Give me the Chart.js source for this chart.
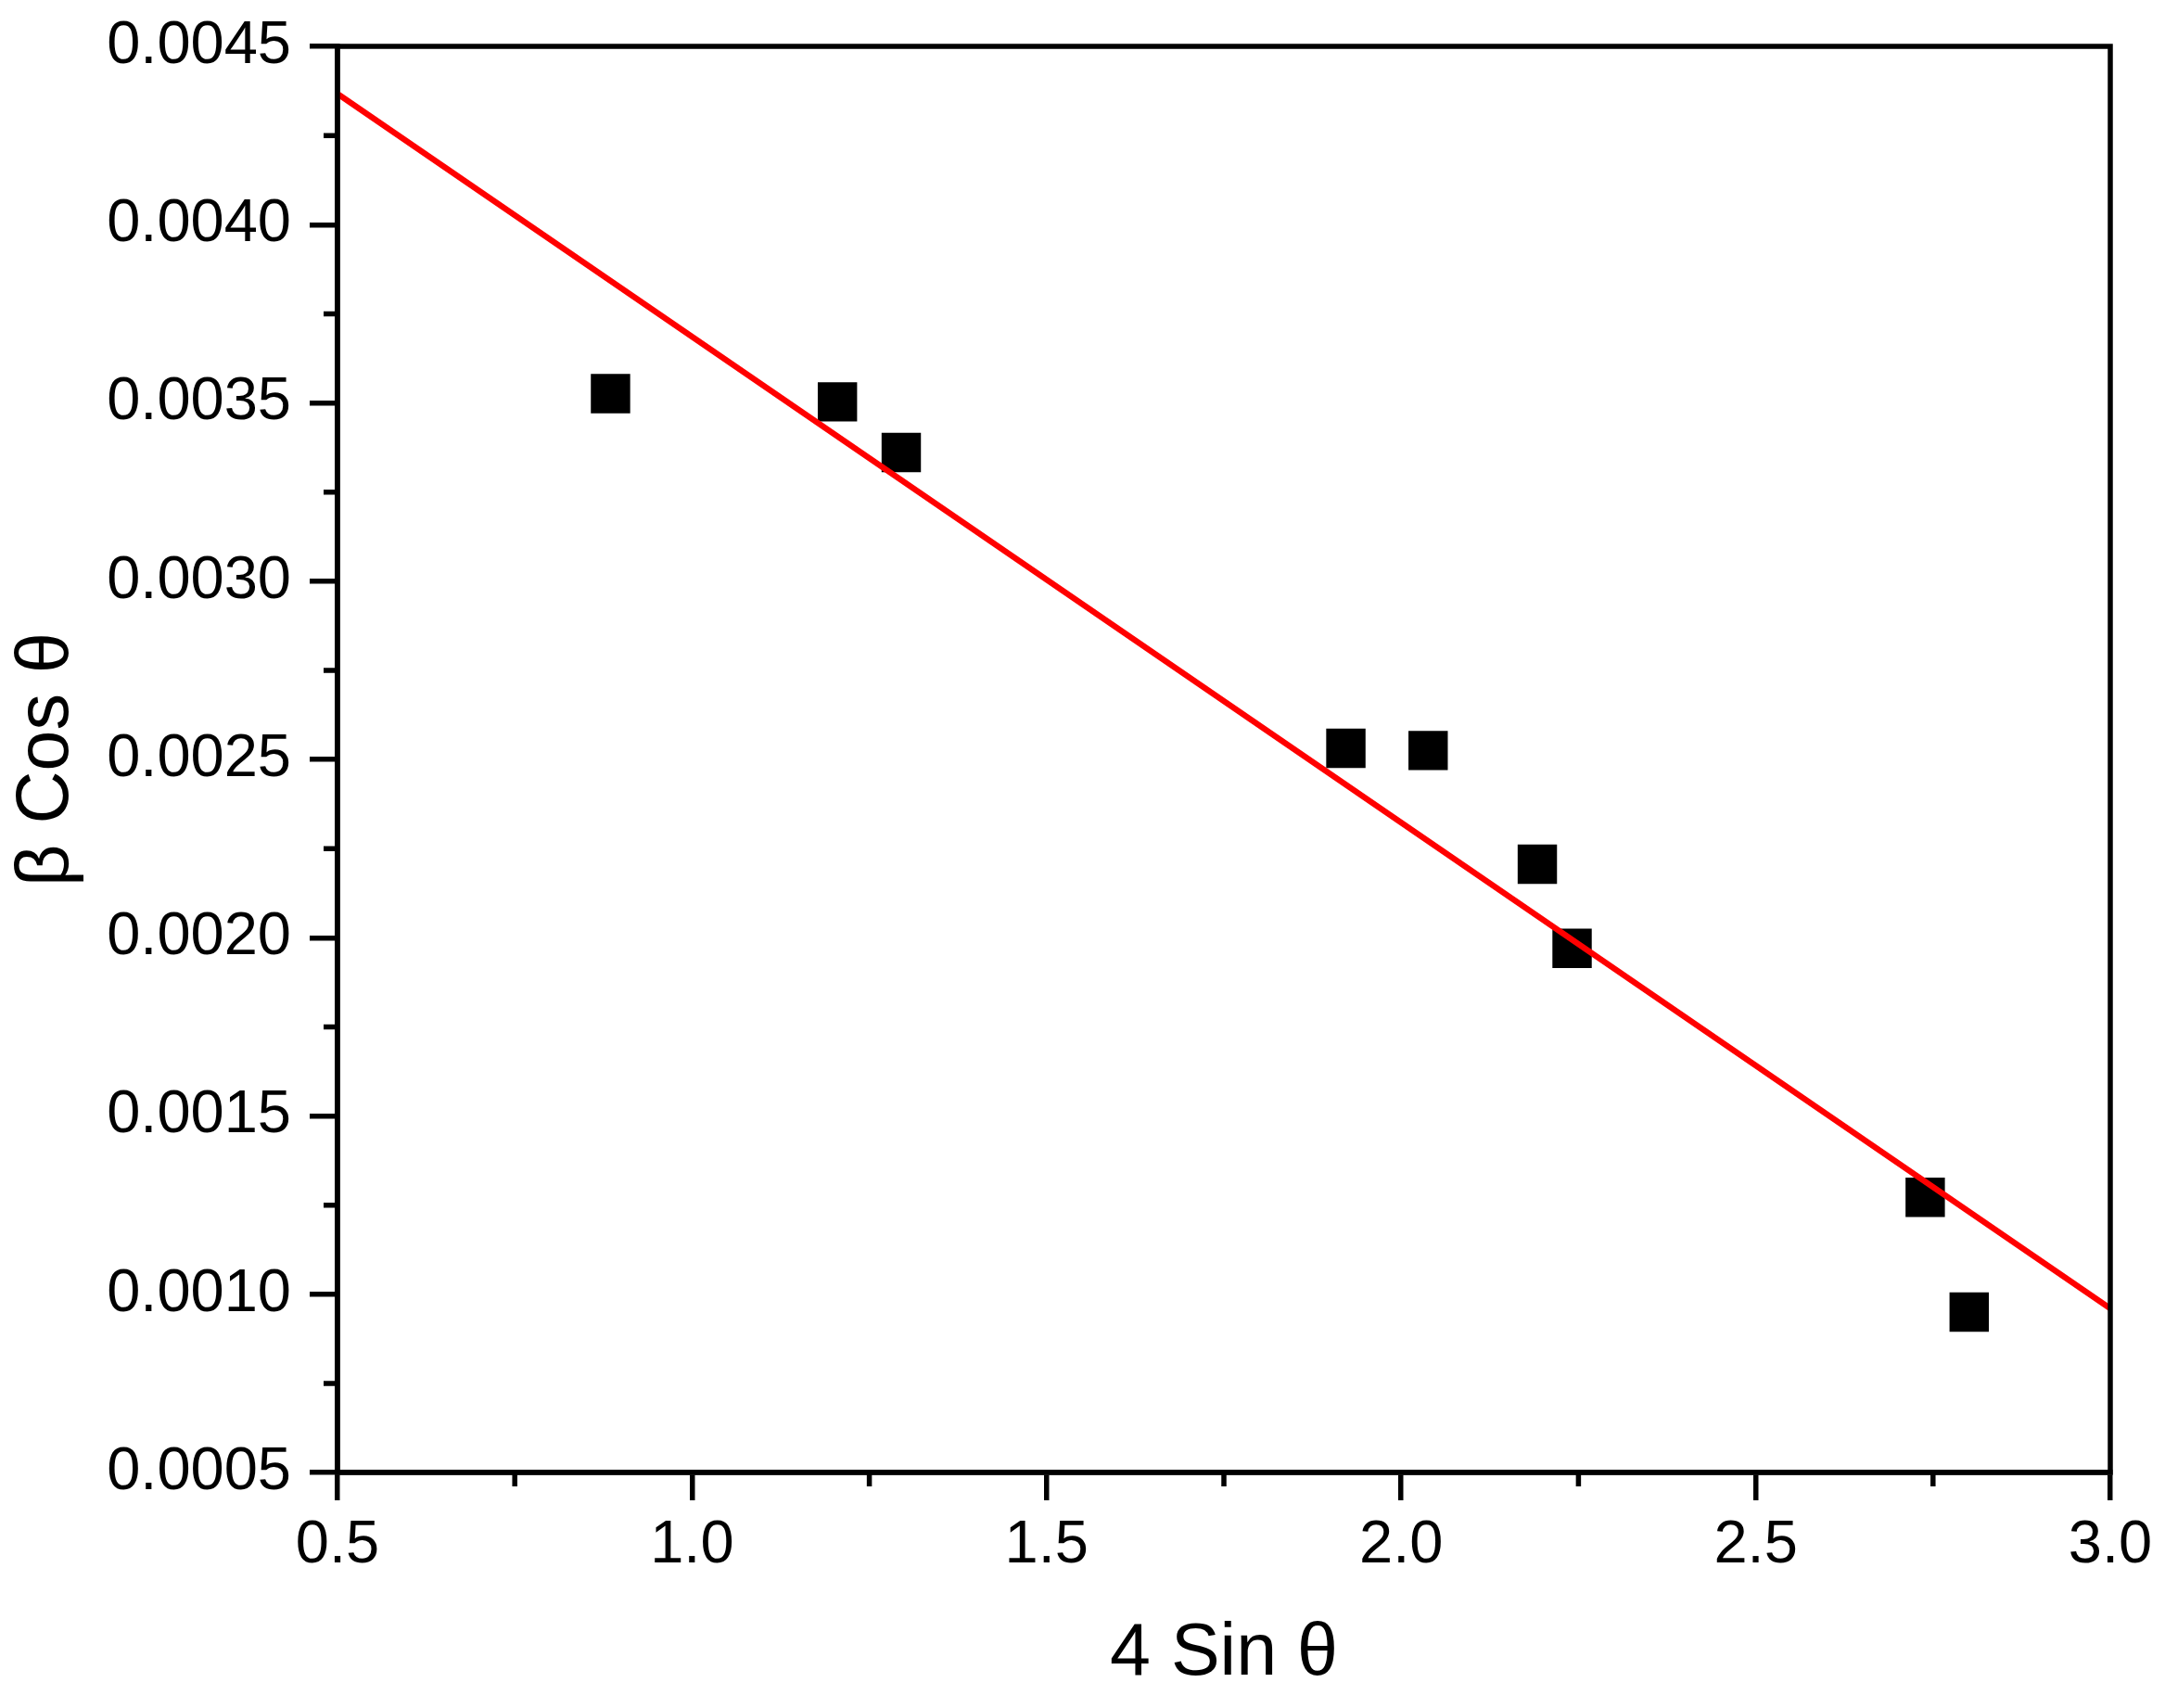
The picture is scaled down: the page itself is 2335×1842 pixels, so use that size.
<!DOCTYPE html>
<html>
<head>
<meta charset="utf-8">
<title>β Cos θ vs 4 Sin θ</title>
<script src="https://cdn.jsdelivr.net/npm/chart.js@4/dist/chart.umd.min.js"></script>
<style>
  html, body { margin: 0; padding: 0; background: #fff; }
  #wrap { width: 2335px; height: 1842px; }
</style>
</head>
<body>
<div id="wrap"><canvas id="whChart"></canvas></div>
<script>
// measured points (4 Sin θ, β Cos θ)
const sinVals = [0.885, 1.205, 1.295, 1.922, 2.038, 2.192, 2.241, 2.739, 2.801];
const cosVals = [0.003526, 0.003503, 0.003361, 0.002531, 0.002525, 0.002206, 0.00197, 0.001272, 0.00095];

// linear fit line, read at the plot edges
const fitX = [0.5, 3.0];
const fitY = [0.004367, 0.00096];

// tick values
const xTicks = [0.5, 1.0, 1.5, 2.0, 2.5, 3.0];
const xMinor = [0.75, 1.25, 1.75, 2.25, 2.75];
const yTicks = [0.0005, 0.0010, 0.0015, 0.0020, 0.0025, 0.0030, 0.0035, 0.0040, 0.0045];
const yMinor = [0.00075, 0.00125, 0.00175, 0.00225, 0.00275, 0.00325, 0.00375, 0.00425];

const FONT = "'Liberation Sans', Arial, sans-serif";
const AXIS_W = 5.5;

// frame on top/right plus the short minor ticks
const framePlugin = {
  id: 'frame',
  afterDraw(chart) {
    const {ctx, chartArea: a, scales: {x, y}} = chart;
    ctx.save();
    ctx.strokeStyle = '#000';
    ctx.lineWidth = AXIS_W;
    ctx.strokeRect(a.left, a.top, a.right - a.left, a.bottom - a.top);
    ctx.beginPath();
    xMinor.forEach(v => {
      const px = x.getPixelForValue(v);
      ctx.moveTo(px, a.bottom);
      ctx.lineTo(px, a.bottom + 15);
    });
    yMinor.forEach(v => {
      const py = y.getPixelForValue(v);
      ctx.moveTo(a.left, py);
      ctx.lineTo(a.left - 15, py);
    });
    ctx.stroke();
    ctx.restore();
  }
};

const axisCommon = {
  type: 'linear',
  grid: {
    display: true,
    drawOnChartArea: false,
    drawTicks: true,
    tickLength: 30,
    color: '#000',
    lineWidth: AXIS_W
  },
  border: { display: true, color: '#000', width: AXIS_W }
};

new Chart(document.getElementById('whChart'), {
  type: 'scatter',
  data: {
    datasets: [
      {
        label: 'Fit',
        data: fitX.map((v, i) => ({ x: v, y: fitY[i] })),
        showLine: true,
        borderColor: '#ff0000',
        borderWidth: 6.5,
        pointRadius: 0,
        order: 0
      },
      {
        label: 'Data',
        data: sinVals.map((v, i) => ({ x: v, y: cosVals[i] })),
        pointStyle: 'rect',
        pointRadius: 30,
        pointBackgroundColor: '#000',
        pointBorderWidth: 0,
        order: 1
      }
    ]
  },
  options: {
    responsive: true,
    maintainAspectRatio: false,
    animation: false,
    layout: { padding: { left: 0, top: 50, right: 59, bottom: 0 } },
    plugins: { legend: { display: false }, tooltip: { enabled: false } },
    scales: {
      x: {
        ...axisCommon,
        min: 0.5,
        max: 3.0,
        afterBuildTicks: s => { s.ticks = xTicks.map(v => ({ value: v })); },
        afterFit: s => { s.height = 254; },
        ticks: {
          color: '#000',
          padding: 10,
          maxRotation: 0,
          font: { family: FONT, size: 65 },
          callback: v => Number(v).toFixed(1)
        },
        title: {
          display: true,
          text: '4 Sin θ',
          color: '#000',
          padding: { top: 0, bottom: 10 },
          font: { family: FONT, size: 79 }
        }
      },
      y: {
        ...axisCommon,
        min: 0.0005,
        max: 0.0045,
        afterBuildTicks: s => { s.ticks = yTicks.map(v => ({ value: v })); },
        afterFit: s => { s.width = 364; s.paddingTop = 0; s.paddingBottom = 0; },
        ticks: {
          color: '#000',
          padding: 20,
          font: { family: FONT, size: 65 },
          callback: v => Number(v).toFixed(4)
        },
        title: {
          display: true,
          text: 'β Cos θ',
          color: '#000',
          padding: { top: 4, bottom: 0 },
          font: { family: FONT, size: 79 }
        }
      }
    }
  },
  plugins: [framePlugin]
});
</script>
</body>
</html>
